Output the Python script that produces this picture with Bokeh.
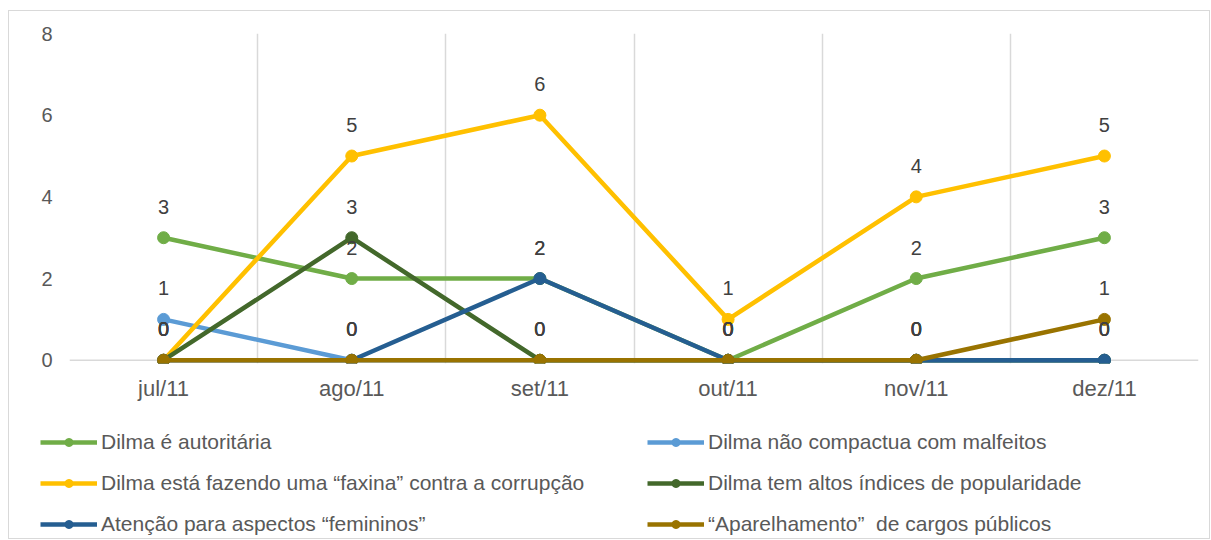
from bokeh.plotting import figure
from bokeh.layouts import column
from bokeh.models import Range1d, FixedTicker, Legend, LegendItem, ColumnDataSource, LabelSet, Span
from bokeh.core.properties import value
from bokeh.embed import file_html
from bokeh.resources import INLINE

months = ["jul/11", "ago/11", "set/11", "out/11", "nov/11", "dez/11"]
names = [
    "Dilma é autoritária",
    "Dilma não compactua com malfeitos",
    "Dilma está fazendo uma “faxina” contra a corrupção",
    "Dilma tem altos índices de popularidade",
    "Atenção para aspectos “femininos”",
    "“Aparelhamento”  de cargos públicos",
]
autoritaria = [3, 2, 2, 0, 2, 3]
nao_compactua = [1, 0, 0, 0, 0, 0]
faxina = [0, 5, 6, 1, 4, 5]
popularidade = [0, 3, 0, 0, 0, 0]
femininos = [0, 0, 2, 0, 0, 0]
aparelhamento = [0, 0, 0, 0, 0, 1]
series = [autoritaria, nao_compactua, faxina, popularidade, femininos, aparelhamento]
colors = ["#70AD47", "#5B9BD5", "#FFC000", "#43682B", "#255E91", "#997300"]
y_ticks = [0, 2, 4, 6, 8]

FONT = "Liberation Sans"
xs = list(range(len(months)))

W = 1200
p = figure(width=W, height=409, output_backend="svg", toolbar_location=None,
           x_range=Range1d(-0.5, len(months) - 0.5), y_range=Range1d(-0.08, 8),
           min_border_left=60, min_border_top=22, min_border_right=11, min_border_bottom=57)
p.outline_line_color = None
p.background_fill_color = "white"
p.frame_align = False

p.xaxis.ticker = FixedTicker(ticks=xs)
p.xaxis.major_label_overrides = {i: m for i, m in enumerate(months)}
p.xaxis.major_tick_line_color = None
p.xaxis.minor_tick_line_color = None
p.xaxis.axis_line_color = None
p.xaxis.major_label_text_font = FONT
p.xaxis.major_label_text_font_size = "22px"
p.xaxis.major_label_text_color = "#595959"
p.xaxis.major_label_standoff = 6

p.yaxis.ticker = FixedTicker(ticks=y_ticks)
p.yaxis.major_tick_line_color = None
p.yaxis.minor_tick_line_color = None
p.yaxis.axis_line_color = None
p.yaxis.major_label_text_font = FONT
p.yaxis.major_label_text_font_size = "20px"
p.yaxis.major_label_text_color = "#595959"
p.yaxis.major_label_standoff = 11

p.ygrid.grid_line_color = None
p.xgrid.ticker = FixedTicker(ticks=[i - 0.5 for i in range(len(months) + 1)])
p.xgrid.grid_line_color = "#d9d9d9"
p.xgrid.grid_line_width = 1.5
p.add_layout(Span(location=0, dimension="width", line_color="#d9d9d9", line_width=1.5,
                  level="underlay"))

for name, vals, col in zip(names, series, colors):
    src = ColumnDataSource(dict(x=xs, y=vals))
    p.line("x", "y", source=src, line_color=col, line_width=4.5)
    p.scatter("x", "y", source=src, size=12, fill_color=col, line_color=col)

for vals in series:
    src = ColumnDataSource(dict(x=xs, y=vals, t=[str(v) for v in vals]))
    p.add_layout(LabelSet(x="x", y="y", text="t", source=src, y_offset=24,
                          text_align="center", text_baseline="bottom",
                          text_font=value(FONT), text_font_size=value("20px"),
                          text_color="#404040"))

# legend panel
lf = figure(width=W, height=118, output_backend="svg", toolbar_location=None,
            x_range=Range1d(0, 1), y_range=Range1d(0, 1),
            x_axis_location=None, y_axis_location=None,
            min_border_left=0, min_border_right=0, min_border_top=0, min_border_bottom=0)
lf.grid.grid_line_color = None
lf.outline_line_color = None
lf.frame_align = False

items = []
for name, col in zip(names, colors):
    l = lf.line(x=[-5, -4], y=[-5, -4], line_color=col, line_width=4.5)
    s = lf.scatter(x=[-5], y=[-5], size=12, fill_color=col, line_color=col)
    items.append(LegendItem(label=name, renderers=[l, s]))

def mk_legend(its, loc):
    return Legend(items=its, location=loc, border_line_color=None, background_fill_alpha=0,
                  padding=0, margin=0, spacing=17, glyph_width=57, glyph_height=20,
                  label_height=20, label_standoff=4, label_text_font=FONT,
                  label_text_font_size="21px", label_text_color="#595959")

lf.add_layout(mk_legend([items[0], items[2], items[4]], (31, 2)))
lf.add_layout(mk_legend([items[1], items[3], items[5]], (638, 2)))

lay = column(p, lf, spacing=0, margin=(10, 0, 0, 8),
             styles={"border": "1px solid #d9d9d9", "background-color": "white"})

open("out.html", "w").write(file_html(lay, INLINE))
